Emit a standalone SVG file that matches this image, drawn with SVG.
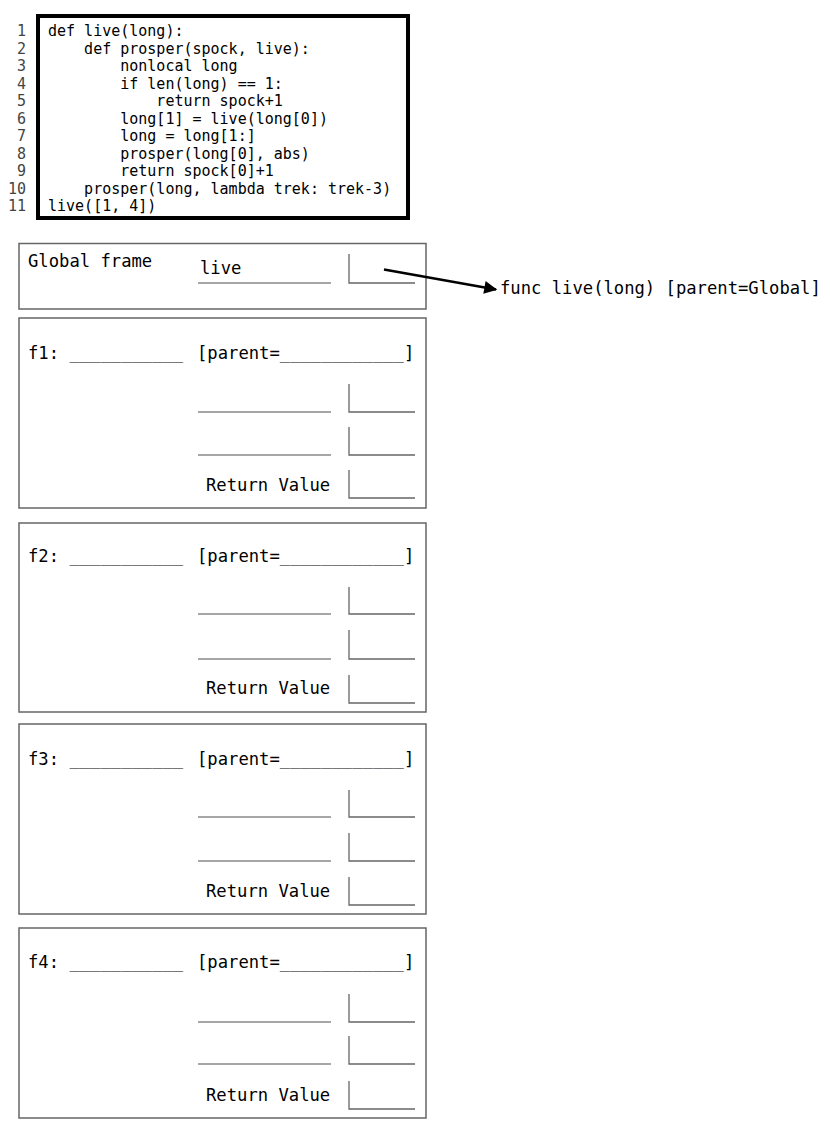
<svg xmlns="http://www.w3.org/2000/svg" width="832" height="1130" viewBox="0 0 832 1130">
<defs>
<style>
.code{font-family:"DejaVu Sans Mono","Liberation Mono",monospace;font-size:15px;fill:#000;white-space:pre}
.ln{font-family:"DejaVu Sans Mono","Liberation Mono",monospace;font-size:15px;fill:#444;text-anchor:end}
.t{font-family:"DejaVu Sans Mono","Liberation Mono",monospace;font-size:17.2px;fill:#000;white-space:pre}
.frame{fill:#fff;stroke:#666;stroke-width:1.5}
.ul{stroke:#888;stroke-width:1.3;fill:none}
.box{stroke:#666;stroke-width:1.3;fill:none}
</style>
<marker id="ah" viewBox="0 0 10 10" refX="9" refY="5" markerWidth="5.5" markerHeight="5" markerUnits="strokeWidth" orient="auto">
<path d="M0,0 L10,5 L0,10 z" fill="#000"/>
</marker>
</defs>
<rect width="832" height="1130" fill="#fff"/>

<g id="code">
<rect x="38" y="16" width="370" height="202" fill="#fff" stroke="#000" stroke-width="4"/>
<text class="ln" x="26" y="36">1</text>
<text class="ln" x="26" y="53.5">2</text>
<text class="ln" x="26" y="71">3</text>
<text class="ln" x="26" y="88.5">4</text>
<text class="ln" x="26" y="106">5</text>
<text class="ln" x="26" y="123.5">6</text>
<text class="ln" x="26" y="141">7</text>
<text class="ln" x="26" y="158.5">8</text>
<text class="ln" x="26" y="176">9</text>
<text class="ln" x="26" y="193.5">10</text>
<text class="ln" x="26" y="211">11</text>
<text class="code" x="48" y="36">def live(long):</text>
<text class="code" x="48" y="53.5">    def prosper(spock, live):</text>
<text class="code" x="48" y="71">        nonlocal long</text>
<text class="code" x="48" y="88.5">        if len(long) == 1:</text>
<text class="code" x="48" y="106">            return spock+1</text>
<text class="code" x="48" y="123.5">        long[1] = live(long[0])</text>
<text class="code" x="48" y="141">        long = long[1:]</text>
<text class="code" x="48" y="158.5">        prosper(long[0], abs)</text>
<text class="code" x="48" y="176">        return spock[0]+1</text>
<text class="code" x="48" y="193.5">    prosper(long, lambda trek: trek-3)</text>
<text class="code" x="48" y="211">live([1, 4])</text>
</g>

<g id="global">
<rect class="frame" x="19" y="243.5" width="407" height="65.5"/>
<text class="t" x="28" y="267">Global frame</text>
<text class="t" x="200" y="274">live</text>
<line class="ul" x1="198" y1="283" x2="331" y2="283"/>
<polyline class="box" points="349,254 349,283 415,283"/>
</g>

<g id="func">
<text class="t" x="500" y="294">func live(long) [parent=Global]</text>
</g>

<g id="f1" transform="translate(0,318)">
<rect class="frame" x="19" y="0" width="407" height="190"/>
<text class="t" x="28" y="41">f1: ___________</text>
<text class="t" x="197" y="41">[parent=____________]</text>
<line class="ul" x1="198" y1="94" x2="331" y2="94"/>
<polyline class="box" points="349,66 349,94 415,94"/>
<line class="ul" x1="198" y1="137" x2="331" y2="137"/>
<polyline class="box" points="349,109 349,137 415,137"/>
<text class="t" x="206" y="173">Return Value</text>
<polyline class="box" points="349,152 349,180 415,180"/>
</g>

<g id="f2" transform="translate(0,523)">
<rect class="frame" x="19" y="0" width="407" height="189"/>
<text class="t" x="28" y="39">f2: ___________</text>
<text class="t" x="197" y="39">[parent=____________]</text>
<line class="ul" x1="198" y1="91" x2="331" y2="91"/>
<polyline class="box" points="349,64 349,91 415,91"/>
<line class="ul" x1="198" y1="136" x2="331" y2="136"/>
<polyline class="box" points="349,107 349,136 415,136"/>
<text class="t" x="206" y="171">Return Value</text>
<polyline class="box" points="349,152 349,180 415,180"/>
</g>

<g id="f3" transform="translate(0,724)">
<rect class="frame" x="19" y="0" width="407" height="190"/>
<text class="t" x="28" y="41">f3: ___________</text>
<text class="t" x="197" y="41">[parent=____________]</text>
<line class="ul" x1="198" y1="93" x2="331" y2="93"/>
<polyline class="box" points="349,66 349,93 415,93"/>
<line class="ul" x1="198" y1="137" x2="331" y2="137"/>
<polyline class="box" points="349,109 349,137 415,137"/>
<text class="t" x="206" y="173">Return Value</text>
<polyline class="box" points="349,153 349,181 415,181"/>
</g>

<g id="f4" transform="translate(0,928)">
<rect class="frame" x="19" y="0" width="407" height="190"/>
<text class="t" x="28" y="40">f4: ___________</text>
<text class="t" x="197" y="40">[parent=____________]</text>
<line class="ul" x1="198" y1="94" x2="331" y2="94"/>
<polyline class="box" points="349,66 349,94 415,94"/>
<line class="ul" x1="198" y1="136" x2="331" y2="136"/>
<polyline class="box" points="349,108 349,136 415,136"/>
<text class="t" x="206" y="173">Return Value</text>
<polyline class="box" points="349,153 349,181 415,181"/>
</g>

<g id="connectors">
<line x1="384" y1="269.5" x2="496" y2="289.5" stroke="#000" stroke-width="2.6" marker-end="url(#ah)"/>
</g>
</svg>
